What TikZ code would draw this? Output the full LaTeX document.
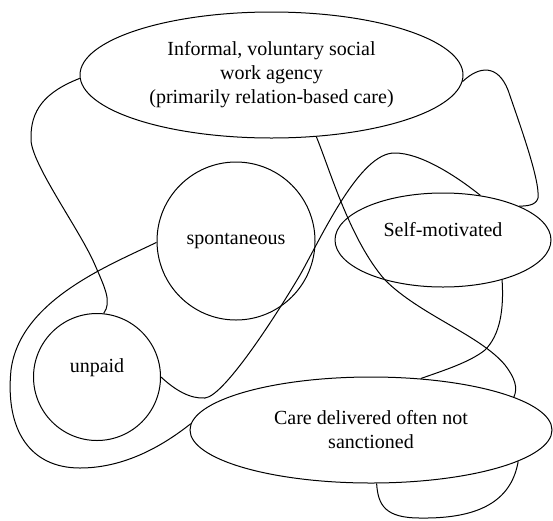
\documentclass[tikz,border=0pt]{standalone}
\usepackage{fontspec}
\setmainfont{Liberation Serif}
\usetikzlibrary{shapes.geometric}
\begin{document}
\begin{tikzpicture}[x=1pt,y=-1pt,line width=1pt,
  every node/.style={font=\fontsize{20}{24}\selectfont,inner sep=0pt,align=center},
  ovalnode/.style={draw,ellipse},
  circnode/.style={draw,circle},
  link/.style={draw,line width=1pt}]
\useasboundingbox (0,0) rectangle (553,520);
\node[ovalnode,minimum width=383pt,minimum height=126pt] (agency) at (271.5,75)
  {Informal, voluntary social\\work agency\\(primarily relation-based care)};
\node[circnode,minimum size=158pt] (spont) at (236,241) {spontaneous};
\node[circnode,minimum size=127pt,text height=14pt,text depth=23pt] (unpaid) at (97,377) {unpaid};
\node[ovalnode,minimum width=216pt,minimum height=94pt,text height=14pt,text depth=22pt] (self) at (443,240) {Self-motivated};
\node[ovalnode,minimum width=362pt,minimum height=106pt] (care) at (371,430)
  {Care delivered often not\\sanctioned};
% A: agency -> unpaid
\draw[link] (agency.181) .. controls (45,92) and (30,110) .. (31,140)
  .. controls (32,165) and (80,230) .. (95,265)
  .. controls (105,288) and (112,302) .. (unpaid.84);
% B: spontaneous -> care (loop round unpaid)
\draw[link] (spont.181) .. controls (110,265) and (20,300) .. (11,370)
  .. controls (5,430) and (30,468) .. (80,468)
  .. controls (130,468) and (170,440) .. (care.178);
% C: unpaid -> self-motivated
\draw[link] (unpaid.east) .. controls (175,390) and (190,399) .. (205,398)
  .. controls (225,396) and (280,309) .. (300,275)
  .. controls (322,236) and (360,152) .. (395,153)
  .. controls (420,153) and (455,175) .. (self.50);
% D: agency -> care
\draw[link] (agency.306) .. controls (330,170) and (350,240) .. (385,280)
  .. controls (420,315) and (480,335) .. (505,365)
  .. controls (515,378) and (518,388) .. (care.13);
% E: agency -> self-motivated
\draw[link] (agency.358) .. controls (480,65) and (498,65) .. (508,90)
  .. controls (520,125) and (540,180) .. (538,198)
  .. controls (536,206) and (525,206) .. (self.24);
% F: self-motivated -> care
\draw[link] (self.326) .. controls (504,310) and (500,335) .. (485,350)
  .. controls (470,362) and (445,370) .. (care.46);
% G: care -> care
\draw[link] (care.276) .. controls (378,505) and (385,518) .. (420,518)
  .. controls (485,519) and (512,497) .. (care.348);
\end{tikzpicture}
\end{document}
